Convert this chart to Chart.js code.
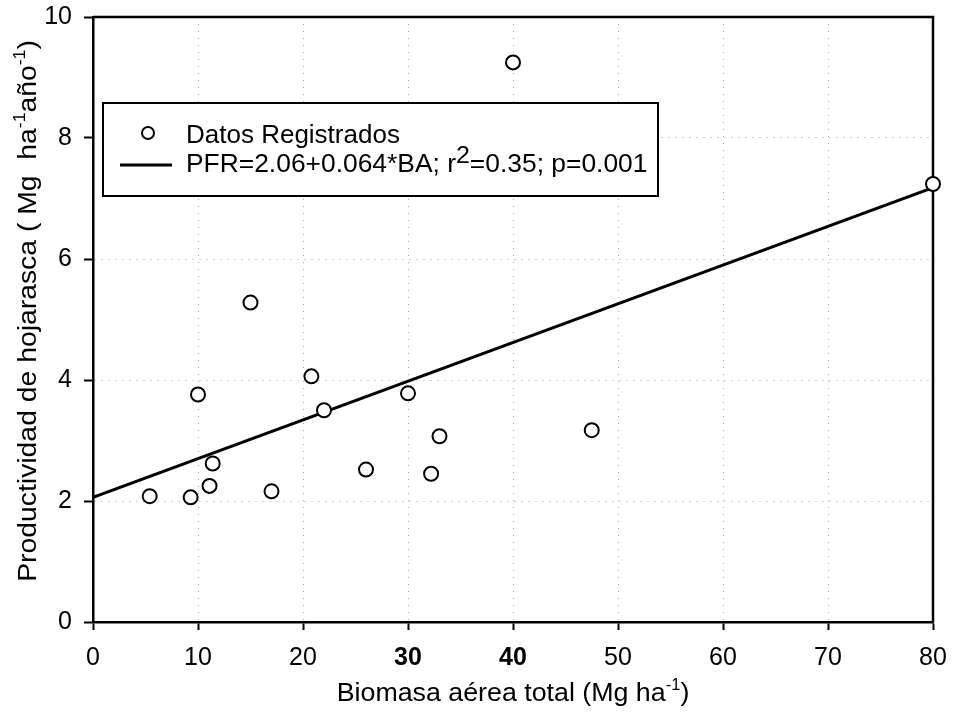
<!DOCTYPE html>
<html>
<head>
<meta charset="utf-8">
<script src="https://cdn.jsdelivr.net/npm/chart.js@4.4.1/dist/chart.umd.min.js"></script>
<style>
  html, body { margin: 0; padding: 0; background: #fff; }
  #wrap { width: 954px; height: 720px; }
</style>
</head>
<body>
<div id="wrap"><canvas id="myChart" width="954" height="720"></canvas></div>
<script>
const biomasa = [5.4, 9.3, 10.0, 11.1, 11.4, 15.0, 17.0, 20.8, 22.0, 26.0, 30.0, 32.2, 33.0, 40.0, 47.5, 80.0];
const productividad = [2.08, 2.06, 3.76, 2.25, 2.62, 5.28, 2.16, 4.06, 3.50, 2.52, 3.78, 2.45, 3.07, 9.25, 3.17, 7.24];

// fitted line end points
const fitX = [0, 80];
const fitY = [2.06, 7.18];

const xTicks = [0, 10, 20, 30, 40, 50, 60, 70, 80];
const yTicks = [0, 2, 4, 6, 8, 10];

const FONT = 'Arial, "Liberation Sans", Helvetica, sans-serif';

// draws text pieces, some as superscripts; stretch widens along the text
function drawRich(ctx, parts, size, x, y, align, stretch) {
  stretch = stretch || 1;
  const widths = parts.map(p => {
    ctx.font = (p.sup ? size * p.sup : size) + 'px ' + FONT;
    return ctx.measureText(p.t).width;
  });
  const total = widths.reduce((a, b) => a + b, 0);
  ctx.save();
  ctx.translate(x, y);
  ctx.scale(stretch, 1);
  let cx = align === 'center' ? -total / 2 : 0;
  ctx.textBaseline = 'alphabetic';
  ctx.textAlign = 'left';
  parts.forEach((p, i) => {
    ctx.font = (p.sup ? size * p.sup : size) + 'px ' + FONT;
    ctx.fillText(p.t, cx, -(p.sup ? size * p.rise : 0));
    cx += widths[i];
  });
  ctx.restore();
}

const decorations = {
  id: 'decorations',
  beforeDatasetsDraw(chart) {
    const { ctx, chartArea: a } = chart;
    ctx.save();
    ctx.strokeStyle = '#000';
    ctx.lineWidth = 2.5;
    ctx.beginPath();
    ctx.moveTo(a.left, a.top);
    ctx.lineTo(a.right, a.top);
    ctx.lineTo(a.right, a.bottom);
    ctx.stroke();
    ctx.restore();
  },
  afterDraw(chart) {
    const { ctx, chartArea: a } = chart;
    ctx.save();
    ctx.fillStyle = '#000';

    // x axis title
    drawRich(ctx, [
      { t: 'Biomasa aérea total (Mg ha' },
      { t: '-1', sup: 0.62, rise: 0.42 },
      { t: ')' }
    ], 26, (a.left + a.right) / 2, 701, 'center', 1.03);

    // y axis title
    ctx.save();
    ctx.translate(36, 311);
    ctx.rotate(-Math.PI / 2);
    drawRich(ctx, [
      { t: 'Productividad de hojarasca ( Mg  ha' },
      { t: '-1', sup: 0.62, rise: 0.42 },
      { t: 'año' },
      { t: '-1', sup: 0.62, rise: 0.42 },
      { t: ')' }
    ], 26, 0, 0, 'center', 1.09);
    ctx.restore();

    // legend box
    const bx = a.left + 10, by = a.top + 86, bw = 555, bh = 93;
    ctx.fillStyle = '#fff';
    ctx.fillRect(bx, by, bw, bh);
    ctx.strokeStyle = '#000';
    ctx.lineWidth = 2;
    ctx.strokeRect(bx, by, bw, bh);

    ctx.beginPath();
    ctx.arc(bx + 45, by + 30, 6, 0, Math.PI * 2);
    ctx.fillStyle = '#fff';
    ctx.fill();
    ctx.lineWidth = 2;
    ctx.stroke();

    ctx.beginPath();
    ctx.moveTo(bx + 17, by + 62);
    ctx.lineTo(bx + 69, by + 62);
    ctx.lineWidth = 3;
    ctx.stroke();

    ctx.fillStyle = '#000';
    drawRich(ctx, [{ t: 'Datos Registrados' }], 26, bx + 83, by + 40, 'left');
    drawRich(ctx, [
      { t: 'PFR=2.06+0.064*BA; r' },
      { t: '2', sup: 0.95, rise: 0.33 },
      { t: '=0.35; p=0.001' }
    ], 26, bx + 83, by + 69, 'left', 1.015);
    ctx.restore();
  }
};

const gridColor = (max) => (c) =>
  (c.tick && (c.tick.value === 0 || c.tick.value === max)) ? 'rgba(0,0,0,0)' : '#a8a8a8';

const config = {
  type: 'scatter',
  data: {
    datasets: [
      {
        label: 'Datos Registrados',
        data: biomasa.map((x, i) => ({ x: x, y: productividad[i] })),
        pointStyle: 'circle',
        pointRadius: 7,
        pointBorderWidth: 2,
        backgroundColor: '#fff',
        borderColor: '#000',
        clip: false
      },
      {
        type: 'line',
        label: 'PFR=2.06+0.064*BA',
        data: fitX.map((x, i) => ({ x: x, y: fitY[i] })),
        borderColor: '#000',
        borderWidth: 3,
        pointRadius: 0,
        fill: false
      }
    ]
  },
  options: {
    responsive: false,
    animation: false,
    layout: { padding: { left: 0, top: 17, right: 21, bottom: 0 } },
    plugins: {
      legend: { display: false },
      tooltip: { enabled: false }
    },
    scales: {
      x: {
        type: 'linear',
        min: 0,
        max: 80,
        afterBuildTicks: (axis) => { axis.ticks = xTicks.map(v => ({ value: v })); },
        afterFit: (s) => { s.height = 98; s.paddingLeft = 0; s.paddingRight = 0; },
        ticks: {
          color: '#000',
          padding: 13,
          font: (c) => ({
            family: FONT,
            size: 25,
            weight: (c.tick && (c.tick.value === 30 || c.tick.value === 40)) ? 'bold' : 'normal'
          })
        },
        grid: {
          color: gridColor(80),
          lineWidth: 1,
          tickColor: '#000',
          tickWidth: 2,
          tickLength: 8
        },
        border: { color: '#000', width: 2.5, dash: [1, 6] }
      },
      y: {
        type: 'linear',
        min: 0,
        max: 10,
        afterBuildTicks: (axis) => { axis.ticks = yTicks.map(v => ({ value: v })); },
        afterFit: (s) => { s.width = 93; s.paddingTop = 0; s.paddingBottom = 0; },
        ticks: {
          color: '#000',
          padding: 12,
          font: { family: FONT, size: 25 }
        },
        grid: {
          color: gridColor(10),
          lineWidth: 1,
          tickColor: '#000',
          tickWidth: 2,
          tickLength: 9
        },
        border: { color: '#000', width: 2.5, dash: [1, 6] }
      }
    }
  },
  plugins: [decorations]
};

window.onload = function () {
  new Chart(document.getElementById('myChart'), config);
};
</script>
</body>
</html>
